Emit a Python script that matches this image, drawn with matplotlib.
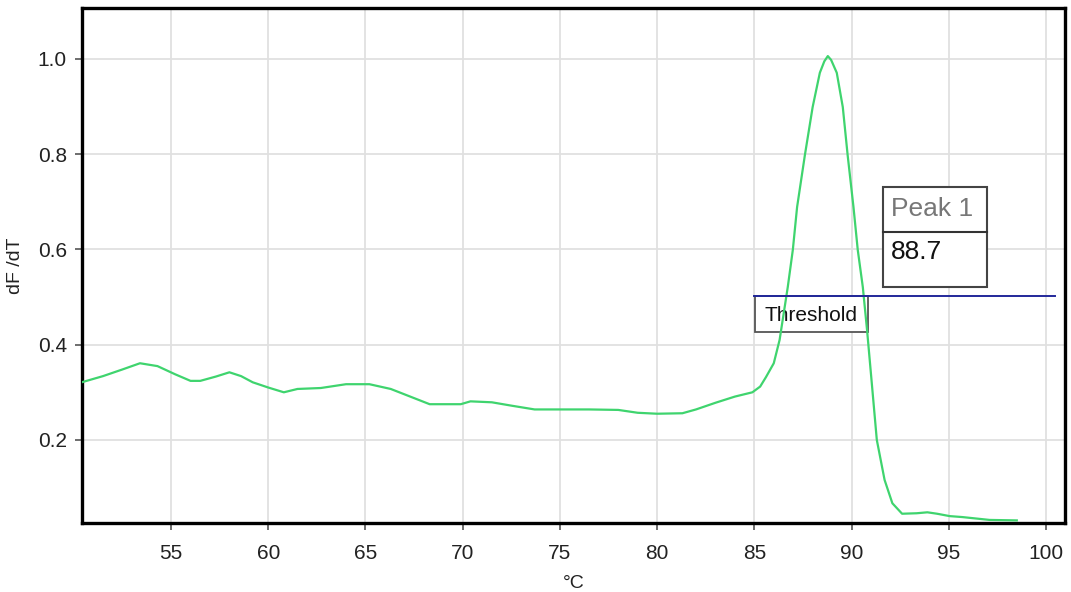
import matplotlib
matplotlib.use("Agg")
import matplotlib.pyplot as plt
from matplotlib.patches import Rectangle

plt.rcParams['font.family'] = ['Liberation Sans', 'DejaVu Sans']

# Melt curve (temperature °C, dF/dT)
temp = [50.4, 51.5, 52.5, 53.4, 54.3, 55.2, 56.0, 56.5, 57.3, 58.0, 58.6, 59.2, 60.0, 60.8,
        61.5, 62.7, 64.0, 65.2, 66.3, 67.3, 68.3, 69.9, 70.4, 71.5, 72.5, 73.7, 75.0,
        76.5, 78.0, 79.0, 80.0, 81.3, 82.0, 83.0, 84.0, 84.9, 85.3, 85.6, 86.0, 86.3,
        86.72, 86.98, 87.2, 87.6, 88.0, 88.37, 88.6, 88.78, 88.95, 89.24, 89.55, 89.8, 90.1,
        90.32, 90.58, 90.8, 91.04, 91.3, 91.7, 92.1, 92.6, 93.35, 93.9, 94.4, 95.05, 95.7,
        96.4, 97.1, 98.5]
dfdt = [0.321, 0.334, 0.348, 0.361, 0.355, 0.338, 0.324, 0.324, 0.333, 0.342, 0.334, 0.321, 0.310, 0.300,
        0.307, 0.309, 0.317, 0.317, 0.307, 0.291, 0.275, 0.275, 0.281, 0.279, 0.272, 0.264, 0.264,
        0.264, 0.263, 0.257, 0.255, 0.256, 0.264, 0.278, 0.291, 0.300, 0.312, 0.332, 0.361, 0.410,
        0.521, 0.599, 0.689, 0.798, 0.899, 0.971, 0.995, 1.006, 0.998, 0.971, 0.899, 0.798, 0.689,
        0.599, 0.521, 0.430, 0.320, 0.200, 0.116, 0.067, 0.045, 0.046, 0.048, 0.045, 0.040, 0.038,
        0.035, 0.032, 0.031]

threshold = 0.503
threshold_start = 85.0
threshold_end = 100.45
threshold_text = "Threshold"
peak_label = "Peak 1"
peak_value = "88.7"

x_ticks = [55, 60, 65, 70, 75, 80, 85, 90, 95, 100]
y_ticks = [0.2, 0.4, 0.6, 0.8, 1.0]

fig = plt.figure(figsize=(10.71, 5.92), dpi=100)
ax = fig.add_axes([0.0766, 0.1166, 0.9178, 0.8699])

ax.set_xlim(50.42, 100.98)
ax.set_ylim(0.0256, 1.107)
ax.set_xticks(x_ticks)
ax.set_yticks(y_ticks)
ax.set_yticklabels([f"{v:.1f}" for v in y_ticks])
ax.grid(True, color='#e0e0e0', linewidth=1.3)
ax.set_axisbelow(True)
for s in ax.spines.values():
    s.set_linewidth(2.4)
    s.set_color('black')
ax.tick_params(axis='both', direction='out', length=5, width=1.2, color='#555555',
               labelsize=15, labelcolor='#222222')
ax.tick_params(axis='x', pad=10)
ax.tick_params(axis='y', pad=6)

# Threshold label box (drawn under the curve)
tx0, tx1, ty0, ty1 = 85.03, 90.84, 0.4265, 0.503
ax.add_patch(Rectangle((tx0, ty0), tx1 - tx0, ty1 - ty0, facecolor='white', edgecolor='#555555',
                       linewidth=1.3, zorder=2.2))
ax.text((tx0 + tx1) / 2, (ty0 + ty1) / 2 - 0.003, threshold_text, fontsize=15, color='#111111',
        va='center', ha='center', zorder=2.3)

ax.plot(temp, dfdt, color='#3fd46e', linewidth=1.6, zorder=3)

ax.plot([threshold_start, threshold_end], [threshold, threshold], color='#22289a', linewidth=1.4, zorder=4)

# Peak box
bx0, bx1 = 91.6, 96.95
by0, by1, bmid = 0.521, 0.731, 0.637
ax.add_patch(Rectangle((bx0, by0), bx1 - bx0, by1 - by0, facecolor='white', edgecolor='#444444',
                       linewidth=1.5, zorder=5))
ax.plot([bx0, bx1], [bmid, bmid], color='#333333', linewidth=1.5, zorder=6)
ax.text(bx0 + 0.42, 0.685, peak_label, fontsize=19, color='#777777', va='center', ha='left', zorder=7)
ax.text(bx0 + 0.42, 0.595, peak_value, fontsize=19, color='#111111', va='center', ha='left', zorder=7)

ax.set_ylabel("dF /dT", fontsize=14, color='#222222', labelpad=10)
ax.set_xlabel("°C", fontsize=14, color='#222222', labelpad=9)

fig.savefig("out.png", dpi=100, facecolor='white')
